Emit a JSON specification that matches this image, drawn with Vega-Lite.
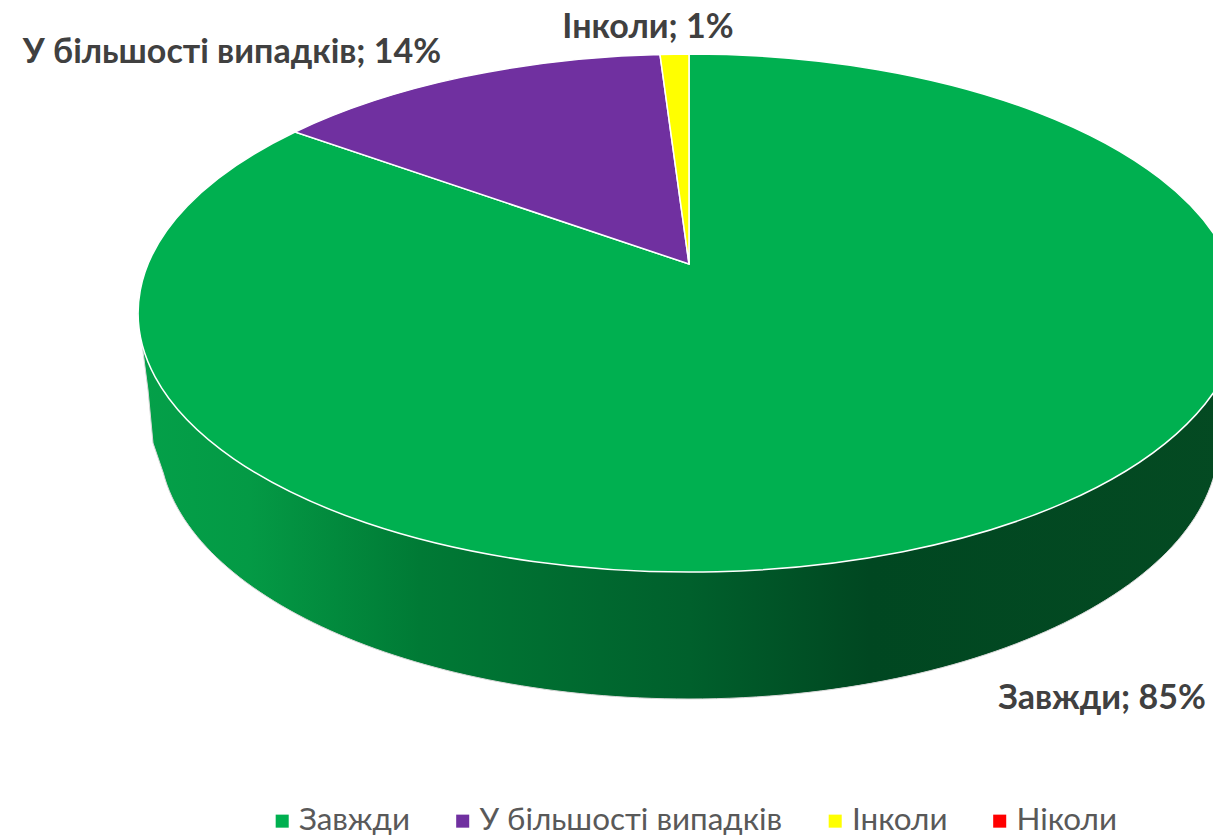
{
  "$schema": "https://vega.github.io/schema/vega-lite/v6.json",
  "width": 1213,
  "height": 838,
  "padding": 0,
  "autosize": {"type": "none"},
  "background": "white",
  "config": {"view": {"stroke": null}},
  "data": {"values": [
    {"category": "Завжди", "share": 85, "label": "Завжди; 85%"},
    {"category": "У більшості випадків", "share": 14, "label": "У більшості випадків; 14%"},
    {"category": "Інколи", "share": 1, "label": "Інколи; 1%"},
    {"category": "Ніколи", "share": 0, "label": "Ніколи; 0%"}
  ]},
  "layer": [
    {
      "transform": [{"filter": "datum.share === 85"}],
      "mark": {
        "type": "point",
        "filled": true,
        "opacity": 1,
        "size": 4,
        "shape": "M-468.5,-106 L-458.5,-29 L-453.5,24 L-443.2,54 A530,259 0 0 0 82.5,280 A530,259 0 0 0 612.5,21 L633.5,-106 Z",
        "stroke": "#d9d9d9",
        "strokeWidth": 1,
        "fill": {
          "gradient": "linear",
          "x1": 0, "y1": 0, "x2": 1, "y2": 0,
          "stops": [
            {"offset": 0, "color": "#04A049"},
            {"offset": 0.1, "color": "#049a45"},
            {"offset": 0.256, "color": "#007a35"},
            {"offset": 0.42, "color": "#00682f"},
            {"offset": 0.5, "color": "#00602c"},
            {"offset": 0.664, "color": "#004721"},
            {"offset": 1, "color": "#044a22"}
          ]
        }
      }
    },
    {
      "transform": [{"filter": "datum.share > 0"}],
      "mark": {"type": "point", "filled": true, "opacity": 1, "size": 4, "stroke": "white", "strokeWidth": 1.5},
      "encoding": {
        "color": {
          "field": "category",
          "type": "nominal",
          "sort": null,
          "scale": {
            "domain": ["Завжди", "У більшості випадків", "Інколи", "Ніколи"],
            "range": ["#00B050", "#7030A0", "#FFFF00", "#FF0000"]
          },
          "legend": {
            "title": null,
            "orient": "none",
            "legendX": 266.5,
            "legendY": 805,
            "direction": "horizontal",
            "columns": 4,
            "symbolType": "square",
            "symbolSize": 170,
            "symbolStrokeWidth": 0,
            "labelFont": "Lato",
            "labelFontSize": 31.4,
            "labelColor": "#595959",
            "labelOffset": 1,
            "columnPadding": 36.5,
            "labelLimit": 500
          }
        },
        "shape": {
          "field": "category",
          "type": "nominal",
          "legend": null,
          "scale": {
            "domain": ["Завжди", "У більшості випадків", "Інколи"],
            "range": [
              "M82.5,-155 L82.5,-365 A551,259 0 1 1 -311.5,-287 Z",
              "M82.5,-155 L-311.5,-287 A551,259 0 0 1 53.5,-364.5 Z",
              "M82.5,-155 L53.5,-364.5 A551,259 0 0 1 82.5,-365 Z"
            ]
          }
        }
      }
    },
    {
      "transform": [{"filter": "datum.share > 0"}],
      "mark": {"type": "text", "font": "Lato", "fontWeight": "bold", "fontSize": 34, "color": "#404040", "align": "center", "baseline": "middle"},
      "encoding": {
        "text": {"field": "label", "type": "nominal"},
        "x": {"field": "share", "type": "quantitative", "axis": null, "scale": {"domain": [1, 14, 85], "range": [648, 232, 1102], "nice": false, "zero": false}},
        "y": {"field": "share", "type": "quantitative", "axis": null, "scale": {"domain": [1, 14, 85], "range": [28, 53, 699], "nice": false, "zero": false}}
      }
    }
  ]
}
